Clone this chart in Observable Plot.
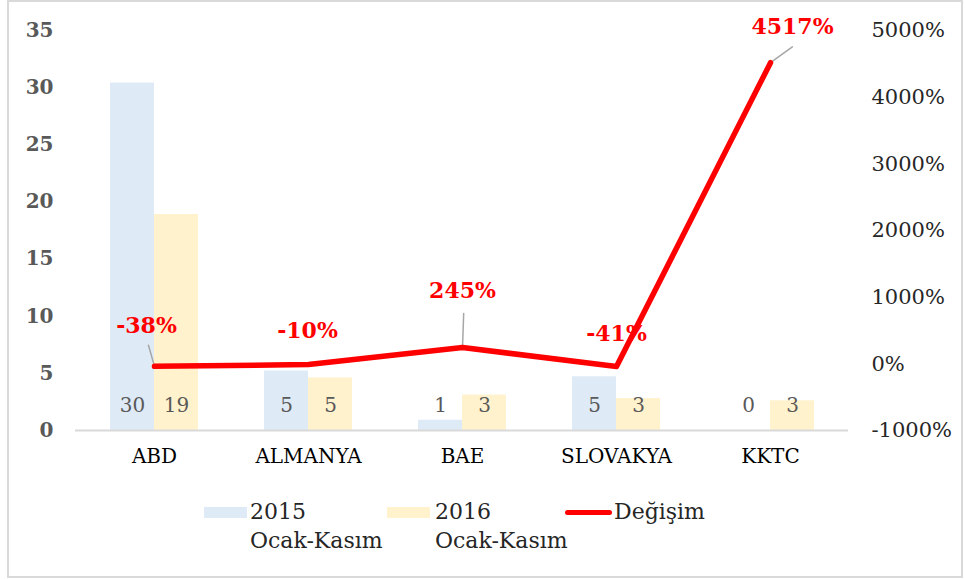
<!DOCTYPE html>
<html>
<head>
<meta charset="utf-8">
<script src="https://cdn.jsdelivr.net/npm/d3@7"></script>
<script src="https://cdn.jsdelivr.net/npm/@observablehq/plot@0.6"></script>
<style>
  html, body { margin: 0; padding: 0; background: #fff; }
  body { width: 965px; height: 579px; position: relative; overflow: hidden; font-family: "DejaVu Serif", serif; }
  #frame { position: absolute; left: 7px; top: 0px; width: 952px; height: 574px; border: 2px solid #d9d9d9; pointer-events: none; }
  #chart { position: absolute; left: 0; top: 0; }
  .lg { position: absolute; font-size: 22px; line-height: 29px; color: #262626; }
  .sw { position: absolute; }
</style>
</head>
<body>
<div id="chart"></div>
<div class="sw" style="left:204px;top:507px;width:43px;height:11px;background:#DEEAF6"></div>
<div class="lg" style="left:250px;top:497px">2015<br>Ocak-Kasım</div>
<div class="sw" style="left:387px;top:507px;width:43px;height:11px;background:#FFF2CC"></div>
<div class="lg" style="left:435px;top:497px">2016<br>Ocak-Kasım</div>
<div class="sw" style="left:565px;top:510px;width:47px;height:5px;background:#FF0000;border-radius:3px"></div>
<div class="lg" style="left:614px;top:497px">Değişim</div>
<div id="frame"></div>
<script>
const categories = ["ABD", "ALMANYA", "BAE", "SLOVAKYA", "KKTC"];
const values2015 = [30.4, 5.2, 0.9, 4.7, 0];
const values2016 = [18.9, 4.6, 3.1, 2.8, 2.6];
const changePct = [-38, -10, 245, -41, 4517];
const leftTicks = [0, 5, 10, 15, 20, 25, 30, 35];
const rightTicks = [-1000, 0, 1000, 2000, 3000, 4000, 5000];

// secondary (percent) axis mapped onto the primary scale domain [0, 35]
const pMin = -1000, pMax = 5000, yMax = 35;
const toLeft = p => (p - pMin) / (pMax - pMin) * yMax;
const toPct = y => Math.round(y / yMax * (pMax - pMin) + pMin);

const bars = categories.flatMap((c, i) => [
  {cat: c, series: "2015", value: values2015[i]},
  {cat: c, series: "2016", value: values2016[i]}
]);
const line = categories.map((c, i) => ({cat: c, pct: changePct[i], y: toLeft(changePct[i])}));

const redLabel = {text: d => d.pct + "%", fill: "#FF0000", fontWeight: "bold", fontSize: 22, lineAnchor: "middle"};
const leader = {draw(context, l) { context.moveTo(0, 0); context.lineTo(0, -l); }};

const plot = Plot.plot({
  width: 965,
  height: 480,
  marginLeft: 75,
  marginRight: 117,
  marginTop: 30,
  marginBottom: 50,
  style: {fontFamily: "DejaVu Serif", fontSize: "20px", background: "transparent"},
  x: {domain: categories, paddingInner: 0.715, paddingOuter: 0.3575, label: null},
  y: {domain: [0, yMax], label: null},
  marks: [
    Plot.barY(bars.filter(d => d.series === "2015"), {x: "cat", y: "value", fill: "#DEEAF6", dx: -22}),
    Plot.barY(bars.filter(d => d.series === "2016"), {x: "cat", y: "value", fill: "#FFF2CC", dx: 22}),
    Plot.ruleY([0], {stroke: "#d9d9d9", strokeWidth: 2}),
    Plot.text(bars.filter(d => d.series === "2015"), {x: "cat", y: 0, text: d => String(Math.round(d.value)), dx: -22, dy: -25, fill: "#595959", fontSize: 20, lineAnchor: "middle"}),
    Plot.text(bars.filter(d => d.series === "2016"), {x: "cat", y: 0, text: d => String(Math.round(d.value)), dx: 22, dy: -25, fill: "#595959", fontSize: 20, lineAnchor: "middle"}),
    Plot.axisY({ticks: leftTicks, tickSize: 0, tickPadding: 22, fill: "#595959", fontWeight: "bold", fontSize: 20, label: null}),
    Plot.axisY({anchor: "right", ticks: rightTicks.map(toLeft), tickFormat: d => toPct(d) + "%", tickSize: 0, tickPadding: 23, fill: "#262626", fontSize: 21, label: null}),
    Plot.axisX({tickSize: 0, tickPadding: 18, fill: "#000", fontSize: 20, label: null}),
    Plot.vector([line[0]], {x: "cat", y: "y", anchor: "start", length: 22, rotate: -16, shape: leader, stroke: "#a6a6a6", strokeWidth: 1.5}),
    Plot.vector([line[2]], {x: "cat", y: "y", anchor: "start", length: 34, rotate: 2, shape: leader, stroke: "#a6a6a6", strokeWidth: 1.5}),
    Plot.vector([line[4]], {x: "cat", y: "y", anchor: "start", length: 27, rotate: 54, shape: leader, stroke: "#a6a6a6", strokeWidth: 1.5}),
    Plot.line(line, {x: "cat", y: "y", stroke: "#FF0000", strokeWidth: 5.5, strokeLinejoin: "round"}),
    Plot.text([line[0]], {x: "cat", y: "y", ...redLabel, dx: -8, dy: -40}),
    Plot.text([line[1]], {x: "cat", y: "y", ...redLabel, dx: -1, dy: -34}),
    Plot.text([line[2]], {x: "cat", y: "y", ...redLabel, dx: 0, dy: -57}),
    Plot.text([line[3]], {x: "cat", y: "y", ...redLabel, dx: 0, dy: -33}),
    Plot.text([line[4]], {x: "cat", y: "y", ...redLabel, dx: 22, dy: -36})
  ]
});
document.getElementById("chart").append(plot);
</script>
</body>
</html>
